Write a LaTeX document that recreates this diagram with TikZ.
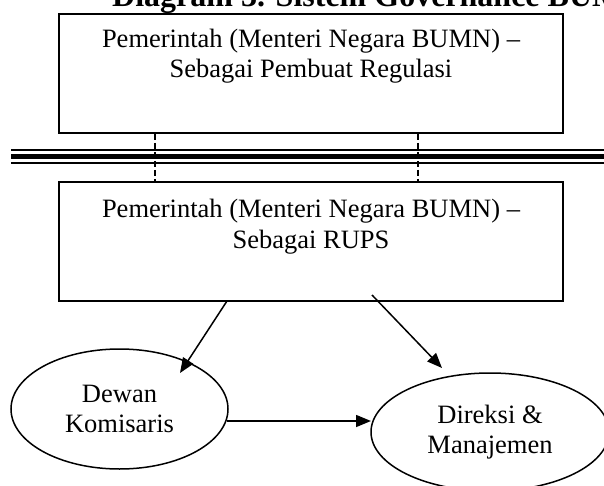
\documentclass[tikz,border=0pt]{standalone}
\usepackage{fontspec}
\setmainfont{Liberation Serif}
\usetikzlibrary{arrows.meta,shapes.geometric}
\begin{document}
\begin{tikzpicture}[x=1pt,y=-1pt,
  bodyfont/.style={font=\fontsize{26.5}{30.5}\selectfont},
  govbox/.style={draw, line width=1.6pt, minimum width=504pt, minimum height=119pt, inner sep=0pt},
  boxtext/.style={bodyfont, align=center, anchor=north, inner sep=0pt},
  organ/.style={draw, line width=1.5pt, ellipse, inner sep=0pt, bodyfont, align=center},
  arr/.style={line width=1.5pt, -{Triangle[length=15pt,width=12pt]}},
  link/.style={line width=1.5pt, dash pattern=on 6pt off 3pt},
  rail/.style={line cap=butt}]
\useasboundingbox (0,0) rectangle (604,486);
\clip (0,0) rectangle (604,486);

% title
\node[anchor=base west, inner sep=0pt, font=\bfseries\fontsize{32}{36}\selectfont]
  (title) at (112,7) {Diagram 3. Sistem Governance BUMN};

% government as regulator
\node[govbox] (reg) at (311,73.5) {};
\node[boxtext] (regtext) at (311,28.9) {Pemerintah (Menteri Negara BUMN) –\\Sebagai Pembuat Regulasi};

% separation rails
\coordinate (railL) at (11,0);
\coordinate (railR) at (604,0);
\draw[rail, line width=1.8pt] (railL |- 0,150) -- (railR |- 0,150);
\draw[rail, line width=4.4pt] (railL |- 0,156.5) -- (railR |- 0,156.5);
\draw[rail, line width=2.7pt] (railL |- 0,163) -- (railR |- 0,163);

% government as shareholder
\node[govbox] (rups) at (311,241.5) {};
\node[boxtext] (rupstext) at (311,199) {Pemerintah (Menteri Negara BUMN) –\\Sebagai RUPS};

% dashed ties between the two roles
\coordinate (tieA) at (155,0);
\coordinate (tieB) at (418,0);
\draw[link] (reg.south -| tieA) -- (rups.north -| tieA);
\draw[link] (reg.south -| tieB) -- (rups.north -| tieB);

% organs
\node[organ, minimum width=217pt, minimum height=120pt] (kom) at (119.5,409) {Dewan\\Komisaris};
\node[organ, minimum width=238pt, minimum height=118pt] (dir) at (490,432) {Direksi \&\\Manajemen};

% connectors
\coordinate (s1) at (227,301);
\coordinate (t1) at (180,373);
\coordinate (s2) at (372,295);
\coordinate (t2) at (442,368);
\coordinate (s3) at (227,421);
\coordinate (t3) at (371,421);
\draw[arr] (s1) -- (t1);
\draw[arr] (s2) -- (t2);
\draw[arr] (s3) -- (t3);
\end{tikzpicture}
\end{document}
